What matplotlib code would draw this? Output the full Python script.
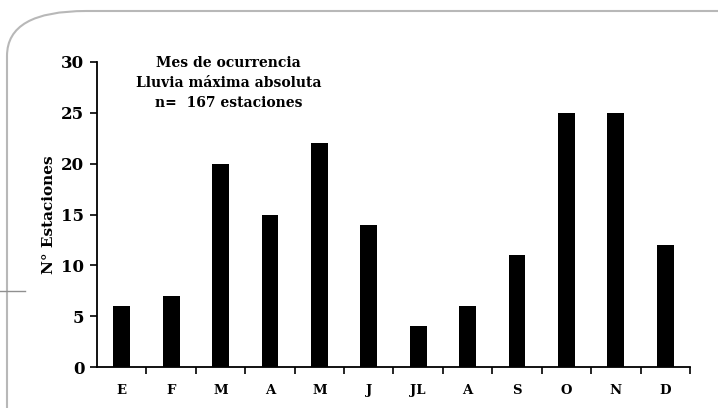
import matplotlib
matplotlib.use('Agg')
import matplotlib.pyplot as plt
from matplotlib.patches import FancyBboxPatch

meses = ['E', 'F', 'M', 'A', 'M', 'J', 'JL', 'A', 'S', 'O', 'N', 'D']
estaciones = [6, 7, 20, 15, 22, 14, 4, 6, 11, 25, 25, 12]
yticks = [0, 5, 10, 15, 20, 25, 30]

plt.rcParams['font.family'] = ['DejaVu Serif']
plt.rcParams['font.weight'] = 'bold'

fig = plt.figure(figsize=(7.18, 4.08), dpi=100)

# marco redondeado de fondo (diapositiva)
frame = FancyBboxPatch((7 / 718, -0.2), 1.2, (408 - 11) / 408 + 0.2,
                       boxstyle='round,pad=0,rounding_size=0.11',
                       transform=fig.transFigure, fill=False,
                       edgecolor='#b8b8b8', linewidth=1.5, zorder=0)
fig.patches.append(frame)
fig.add_artist(plt.Line2D([0, 25 / 718], [1 - 291 / 408] * 2,
                          transform=fig.transFigure, color='#909090', lw=1))

ax = fig.add_axes([97 / 718, 41 / 408, 593 / 718, 305 / 408])
x = list(range(len(meses)))
ax.bar(x, estaciones, width=0.34, color='black')

ax.set_xlim(-0.5, len(meses) - 0.5)
ax.set_ylim(0, 30)
ax.set_yticks(yticks)
ax.set_yticklabels([str(v) for v in yticks], fontsize=12, fontweight='bold')
ax.set_xticks(x)
ax.set_xticklabels(meses, fontsize=9.5, fontweight='bold')
ax.tick_params(axis='x', length=0, pad=12)
ax.set_xticks([i + 0.5 for i in range(len(meses))], minor=True)
ax.tick_params(axis='x', which='minor', length=5, width=1.2, direction='out')
ax.tick_params(axis='y', length=5, width=1.2, direction='out', pad=4)

for s in ['top', 'right']:
    ax.spines[s].set_visible(False)
ax.spines['left'].set_linewidth(1.3)
ax.spines['bottom'].set_linewidth(1.3)

ax.set_ylabel('N° Estaciones', fontsize=11, fontweight='bold', labelpad=4)

ax.text(0.222, 1.02, 'Mes de ocurrencia\nLluvia máxima absoluta\nn=  167 estaciones',
        transform=ax.transAxes, ha='center', va='top', fontsize=10,
        fontweight='bold', linespacing=1.55)

fig.savefig('out.png', dpi=100)
